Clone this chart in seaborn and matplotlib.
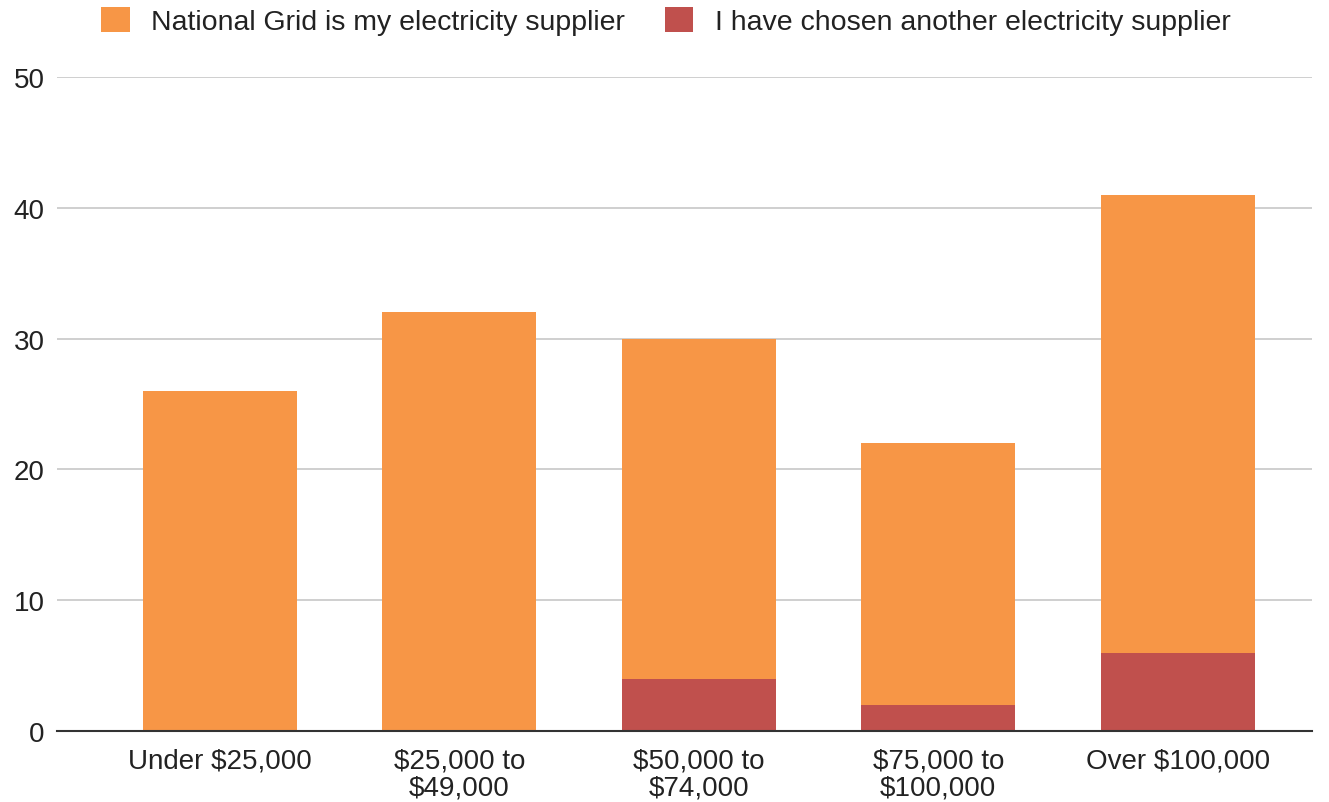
import matplotlib
matplotlib.use("Agg")
import matplotlib.pyplot as plt
from matplotlib.patches import Patch
import seaborn as sns
import pandas as pd

categories = ["Under $25,000", "$25,000 to\n$49,000", "$50,000 to\n$74,000",
              "$75,000 to\n$100,000", "Over $100,000"]
national_grid = [26, 32, 26, 20, 35]
other_supplier = [0, 0, 4, 2, 6]
series_names = ["National Grid is my electricity supplier",
                "I have chosen another electricity supplier"]
y_ticks = [0, 10, 20, 30, 40, 50]

orange = "#F79646"
red = "#C0504D"

sns.set_theme(style="white")
plt.rcParams["font.family"] = ["Liberation Sans", "DejaVu Sans"]

df = pd.DataFrame({"cat": categories, "ng": national_grid, "other": other_supplier})
df["total"] = df["ng"] + df["other"]

fig = plt.figure(figsize=(13.29, 8.03), dpi=100)
ax = fig.add_axes([0.0429, 0.0884, 0.9442, 0.8145])

ax.yaxis.grid(True, color="#cccccc", linewidth=1.3)
ax.set_axisbelow(True)

sns.barplot(data=df, x="cat", y="total", color=orange, saturation=1, width=0.643,
            linewidth=0, ax=ax)
sns.barplot(data=df, x="cat", y="other", color=red, saturation=1, width=0.643,
            linewidth=0, ax=ax)

ax.set_xlim(-0.68, 4.56)
ax.set_ylim(0, 50)
ax.set_yticks(y_ticks)
ax.set_xlabel("")
ax.set_ylabel("")
for s in ["top", "right", "left"]:
    ax.spines[s].set_visible(False)
ax.spines["bottom"].set_color("#333333")
ax.spines["bottom"].set_linewidth(1.5)
ax.tick_params(axis="both", length=0, labelsize=20, colors="#222222")
ax.tick_params(axis="y", pad=9)
ax.tick_params(axis="x", pad=12)
for lbl in ax.get_xticklabels():
    lbl.set_linespacing(1.05)

handles = [Patch(facecolor=orange, edgecolor="none"), Patch(facecolor=red, edgecolor="none")]
fig.legend(handles, series_names, loc="upper center", bbox_to_anchor=(0.501, 1.022), ncol=2,
           frameon=False, fontsize=20.5, handlelength=1.0, handleheight=1.0,
           handletextpad=0.75, columnspacing=1.4, labelcolor="#222222")

fig.savefig("out.png", dpi=100, facecolor="white")
